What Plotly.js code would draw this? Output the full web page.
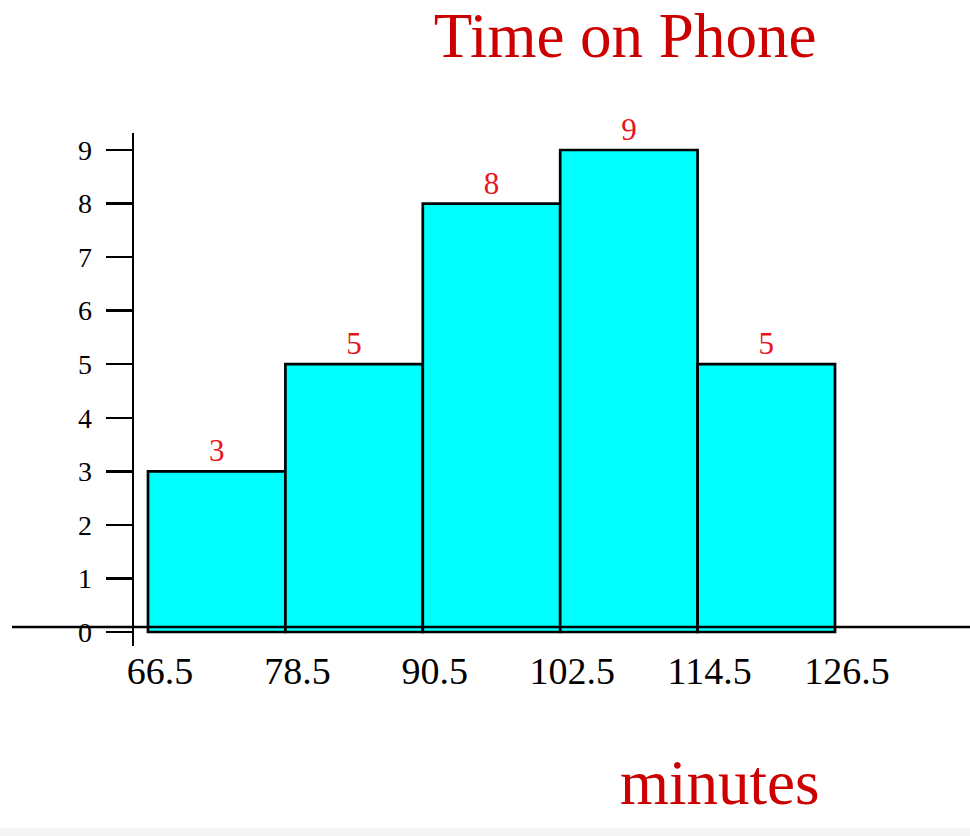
<!DOCTYPE html>
<html>
<head>
<meta charset="utf-8">
<script src="https://cdn.plot.ly/plotly-3.0.1.min.js"></script>
<style>
  html, body { margin: 0; padding: 0; background: #ffffff; }
  #chart { width: 970px; height: 836px; }
</style>
</head>
<body>
<div id="chart"></div>
<script>
// Class boundaries (minutes) and the number of people in each class
const binEdges = [66.5, 78.5, 90.5, 102.5, 114.5, 126.5];
const counts = [3, 5, 8, 9, 5];
const edgeLabels = ['66.5', '78.5', '90.5', '102.5', '114.5', '126.5'];
const yTicks = [0, 1, 2, 3, 4, 5, 6, 7, 8, 9];

const serif = '"Liberation Serif", "Times New Roman", serif';

// Bar centres and widths come straight from the class boundaries
const centres = counts.map((_, i) => (binEdges[i] + binEdges[i + 1]) / 2);
const widths = counts.map((_, i) => binEdges[i + 1] - binEdges[i]);

const trace = {
  type: 'bar',
  x: centres,
  y: counts,
  width: widths,
  text: counts.map(String),
  textposition: 'outside',
  cliponaxis: false,
  textfont: { family: serif, size: 31, color: '#e8141c' },
  marker: { color: '#00ffff', line: { color: '#000000', width: 2.7 } },
  hoverinfo: 'skip'
};

const plotLeft = 134, plotWidth = 970 - plotLeft;
const plotTop = 133, plotBottom = 646, plotHeight = plotBottom - plotTop;

const layout = {
  width: 970,
  height: 836,
  margin: { l: plotLeft, r: 0, t: plotTop, b: 836 - plotBottom },
  paper_bgcolor: '#ffffff',
  plot_bgcolor: 'rgba(0,0,0,0)',
  showlegend: false,
  title: {
    text: 'Time on Phone',
    font: { family: serif, size: 63, color: '#cc0000' },
    xref: 'container', x: 625 / 970, xanchor: 'center',
    yref: 'container', y: 1 - 35 / 836, yanchor: 'middle'
  },
  xaxis: {
    range: [65.277, 138.29],
    tickvals: binEdges,
    ticktext: edgeLabels,
    ticks: '',
    showline: false,
    showgrid: false,
    zeroline: false,
    ticklabelshift: 12,
    ticklabelstandoff: -1,
    tickfont: { family: serif, size: 38, color: '#000000' },
    fixedrange: true
  },
  yaxis: {
    range: [-0.261, 9.317],
    tickvals: yTicks,
    ticks: 'outside',
    ticklen: 26,
    tickwidth: 2.5,
    tickcolor: '#000000',
    showline: true,
    linecolor: '#000000',
    linewidth: 2.5,
    showgrid: false,
    zeroline: false,
    ticklabelstandoff: 8,
    tickfont: { family: serif, size: 28, color: '#000000' },
    fixedrange: true
  },
  shapes: [
    // horizontal base line running across the whole figure
    { type: 'line', xref: 'paper', yref: 'y', x0: -(plotLeft - 12) / plotWidth, x1: 1,
      y0: 0.093, y1: 0.093, line: { color: '#000000', width: 2.5 }, layer: 'above' },
    // pale strip along the bottom edge
    { type: 'rect', xref: 'paper', yref: 'paper', x0: -plotLeft / plotWidth, x1: 1,
      y0: -(836 - plotBottom) / plotHeight, y1: -(828 - plotBottom) / plotHeight,
      fillcolor: '#f4f4f4', line: { width: 0 } }
  ],
  annotations: [
    { text: 'minutes', xref: 'paper', yref: 'paper',
      x: (720 - plotLeft) / plotWidth, y: -(783 - plotBottom) / plotHeight,
      xanchor: 'center', yanchor: 'middle', showarrow: false,
      font: { family: serif, size: 63, color: '#cc0000' } }
  ]
};

Plotly.newPlot('chart', [trace], layout, { displayModeBar: false, staticPlot: true });
</script>
</body>
</html>
